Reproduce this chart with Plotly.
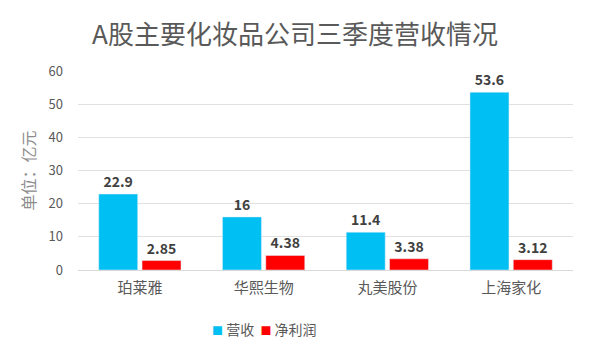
import plotly.graph_objects as go

categories = ["珀莱雅", "华熙生物", "丸美股份", "上海家化"]
revenue = [22.9, 16, 11.4, 53.6]
net_profit = [2.85, 4.38, 3.38, 3.12]
revenue_labels = ["22.9", "16", "11.4", "53.6"]
profit_labels = ["2.85", "4.38", "3.38", "3.12"]
y_ticks = [0, 10, 20, 30, 40, 50, 60]
series_names = ["营收", "净利润"]
series_colors = ["#00BFF2", "#FF0000"]

font_cjk = "Noto Sans CJK SC, Noto Sans, sans-serif"
gray = "#595959"
label_font = dict(family=font_cjk, size=14, color="#404040", weight="bold")

fig = go.Figure()
fig.add_trace(go.Bar(
    name=series_names[0], x=categories, y=revenue, marker_color=series_colors[0],
    text=revenue_labels, textposition="outside", textfont=label_font,
    cliponaxis=False,
))
fig.add_trace(go.Bar(
    name=series_names[1], x=categories, y=net_profit, marker_color=series_colors[1],
    text=profit_labels, textposition="outside", textfont=label_font,
    cliponaxis=False,
))

legend_text = "&nbsp;&nbsp;".join(
    f"<span style='color:{c};font-size:11px'>■</span>&nbsp;{n}"
    for n, c in zip(series_names, series_colors)
)
fig.add_annotation(
    text=legend_text, xref="paper", yref="paper", x=(264 - 78) / 495, y=-(329 - 270) / 199,
    xanchor="center", yanchor="middle", showarrow=False,
    font=dict(family=font_cjk, size=14, color=gray),
)

# page body adds an 8px offset; compensate in figure size/margins
fig.update_layout(
    width=586, height=347,
    margin=dict(l=70, r=21, t=63, b=85),
    paper_bgcolor="white", plot_bgcolor="white",
    barmode="group", bargap=0.3, bargroupgap=0.1,
    showlegend=False,
    title=dict(text="A股主要化妆品公司三季度营收情况", x=(295 - 8) / 586, xanchor="center",
               y=0.922, yanchor="middle",
               font=dict(family=font_cjk, size=26, color=gray)),
    xaxis=dict(showgrid=False, showline=True, linecolor="#D9D9D9", linewidth=1,
               ticks="", ticklabelstandoff=4,
               tickfont=dict(family=font_cjk, size=15, color=gray)),
    yaxis=dict(range=[0, 60], tickvals=y_ticks, showgrid=True, gridcolor="#E0E0E0",
               zeroline=False, ticks="", ticklabelstandoff=14,
               tickfont=dict(family=font_cjk, size=13, color=gray),
               title=dict(text="单位：亿元", standoff=8,
                          font=dict(family=font_cjk, size=16, color="#8C8C8C"))),
)

fig.write_html("out.html")
